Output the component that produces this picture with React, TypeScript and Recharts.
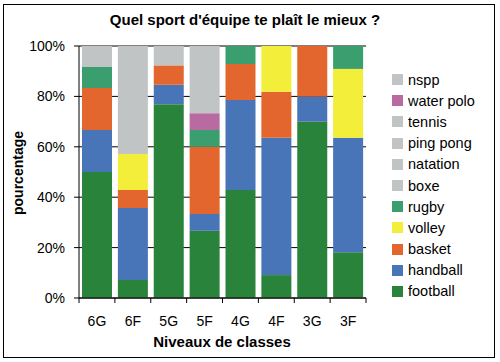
import { BarChart, Bar, XAxis, YAxis, CartesianGrid } from 'recharts';

// niveaux de classes
const levels = ['6G', '6F', '5G', '5F', '4G', '4F', '3G', '3F'];

// nombre d'élèves par sport (du bas vers le haut de la pile)
const football = [6, 1, 10, 4, 6, 1, 7, 2];
const handball = [2, 4, 1, 1, 5, 6, 1, 5];
const basket = [2, 1, 1, 4, 2, 2, 2, 0];
const volley = [0, 2, 0, 0, 0, 2, 0, 3];
const rugby = [1, 0, 0, 1, 1, 0, 0, 1];
const boxe = [0, 1, 0, 0, 0, 0, 0, 0];
const natation = [0, 2, 0, 0, 0, 0, 0, 0];
const pingPong = [0, 1, 0, 0, 0, 0, 0, 0];
const tennis = [0, 2, 1, 0, 0, 0, 0, 0];
const waterPolo = [0, 0, 0, 1, 0, 0, 0, 0];
const nspp = [1, 0, 0, 4, 0, 0, 0, 0];

const yTicks = [0, 0.2, 0.4, 0.6, 0.8, 1];

const SERIES = [
    { key: 'football', name: 'football', values: football, color: '#2a833a' },
    { key: 'handball', name: 'handball', values: handball, color: '#4874b8' },
    { key: 'basket', name: 'basket', values: basket, color: '#e3662e' },
    { key: 'volley', name: 'volley', values: volley, color: '#f2ee3a' },
    { key: 'rugby', name: 'rugby', values: rugby, color: '#3a9e6e' },
    { key: 'boxe', name: 'boxe', values: boxe, color: '#c0c4c4' },
    { key: 'natation', name: 'natation', values: natation, color: '#c0c4c4' },
    { key: 'pingPong', name: 'ping pong', values: pingPong, color: '#c0c4c4' },
    { key: 'tennis', name: 'tennis', values: tennis, color: '#c0c4c4' },
    { key: 'waterPolo', name: 'water polo', values: waterPolo, color: '#b96aa0' },
    { key: 'nspp', name: 'nspp', values: nspp, color: '#c0c4c4' },
];

const data = levels.map((level, i) => {
    const row: Record<string, string | number> = { level };
    SERIES.forEach((s) => { row[s.key] = s.values[i]; });
    return row;
});

const FONT = '"Liberation Sans", Arial, sans-serif';
const PLOT_LEFT = 79;
const PLOT_RIGHT = 366;
const PLOT_TOP = 46;
const PLOT_BOTTOM = 298;
const BAND = (PLOT_RIGHT - PLOT_LEFT) / levels.length;

// étiquette X avec petits traits entre les catégories
const LevelTick = (props: any) => {
    const { x, payload, index } = props;
    return (
        <g>
            <line x1={x - BAND / 2} x2={x - BAND / 2} y1={PLOT_BOTTOM} y2={PLOT_BOTTOM + 5} stroke="#000" />
            {index === levels.length - 1 && (
                <line x1={x + BAND / 2} x2={x + BAND / 2} y1={PLOT_BOTTOM} y2={PLOT_BOTTOM + 5} stroke="#000" />
            )}
            <text x={x} y={PLOT_BOTTOM + 28} textAnchor="middle" fontSize={14} fontFamily={FONT} fill="#000">
                {payload.value}
            </text>
        </g>
    );
};

export default function App() {
    const legendItems = [...SERIES].reverse();

    return (
        <div style={{ position: 'absolute', left: 0, top: 0, width: 500, height: 362, background: '#fff', fontFamily: FONT }}>
            <div style={{ position: 'absolute', left: 3, top: 4, width: 492, height: 354, border: '1px solid #000', boxSizing: 'border-box' }} />

            <div style={{ position: 'absolute', left: 0, width: 490, top: 11, textAlign: 'center', fontSize: 15, fontWeight: 'bold' }}>
                Quel sport d'équipe te plaît le mieux ?
            </div>

            <div style={{ position: 'absolute', left: 18, top: 173, transform: 'translate(-50%, -50%) rotate(-90deg)', fontSize: 14, fontWeight: 'bold', whiteSpace: 'nowrap' }}>
                pourcentage
            </div>

            <div style={{ position: 'absolute', left: 122, width: 200, top: 333, textAlign: 'center', fontSize: 15, fontWeight: 'bold' }}>
                Niveaux de classes
            </div>

            <div style={{ position: 'absolute', left: 0, top: 0 }}>
                <BarChart
                    width={500}
                    height={362}
                    data={data}
                    stackOffset="expand"
                    margin={{ top: PLOT_TOP, right: 500 - PLOT_RIGHT, bottom: 362 - PLOT_BOTTOM - 30, left: 0 }}
                >
                    <CartesianGrid vertical={false} stroke="#000" strokeWidth={1} />
                    <XAxis
                        dataKey="level"
                        height={30}
                        tickLine={false}
                        axisLine={{ stroke: '#000' }}
                        tick={<LevelTick />}
                        interval={0}
                    />
                    <YAxis
                        width={PLOT_LEFT}
                        domain={[0, 1]}
                        ticks={yTicks}
                        tickFormatter={(v: number) => `${Math.round(v * 100)}%`}
                        axisLine={{ stroke: '#000' }}
                        tickLine={{ stroke: '#000' }}
                        tickSize={5}
                        tickMargin={9}
                        tick={{ fontSize: 14, fontFamily: FONT, fill: '#000' }}
                    />
                    {SERIES.map((s) => (
                        <Bar
                            key={s.key}
                            dataKey={s.key}
                            name={s.name}
                            stackId="a"
                            fill={s.color}
                            barSize={30}
                            isAnimationActive={false}
                        />
                    ))}
                </BarChart>
            </div>

            <div style={{ position: 'absolute', left: 392, top: 69 }}>
                {legendItems.map((s) => (
                    <div key={s.key} style={{ display: 'flex', alignItems: 'center', height: 21.2, fontSize: 14.5 }}>
                        <span style={{ display: 'inline-block', width: 11, height: 11, background: s.color, marginRight: 5 }} />
                        <span>{s.name}</span>
                    </div>
                ))}
            </div>
        </div>
    );
}
